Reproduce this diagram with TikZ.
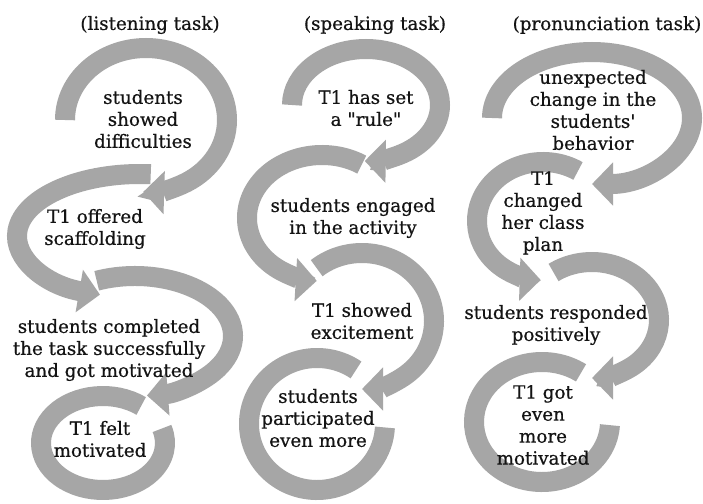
\documentclass[tikz,border=0pt]{standalone}
\usepackage{fontspec}
\setmainfont{DejaVu Serif}[FakeBold=0.6]
\usetikzlibrary{arrows.meta}
\definecolor{arrowgray}{RGB}{166,166,166}
\definecolor{txt}{RGB}{20,20,20}
\tikzset{
  ring/.style={draw=arrowgray, line width=20pt},
  ringarrow/.style={ring, -{Triangle[width=42pt,length=21pt]}},
  lbl/.style={font=\fontsize{18.3}{22}\selectfont, text=txt, align=center, inner sep=0pt},
}
% style, cx, cy(screen), rx, ry, start, end
\newcommand{\ringpath}[7]{%
  \draw[#1] ([shift={(#6:#4 and #5)}]#2,-#3) arc[start angle=#6,end angle=#7,x radius=#4,y radius=#5];}
\begin{document}
\begin{tikzpicture}[x=1pt,y=1pt]
\fill[white] (0,0) rectangle (703,-503);
\useasboundingbox (0,0) rectangle (703,-503);
% column 1
\ringpath{ringarrow}{146}{120}{81}{72}{180}{-92}
\ringpath{ringarrow}{140}{236}{123}{62}{85}{251}
\ringpath{ringarrow}{135}{336}{98}{60}{113}{-83}
\ringpath{ring}{103}{443}{62}{47}{52}{378}
% column 2
\ringpath{ringarrow}{366}{105}{74}{56}{180}{-91}
\ringpath{ringarrow}{322}{218}{75}{63}{58}{266}
\ringpath{ringarrow}{362}{321}{72}{68}{129}{-90}
\ringpath{ring}{317}{424}{68}{66}{55}{357}
% column 3
\ringpath{ringarrow}{592}{118}{100}{66}{180}{-90}
\ringpath{ringarrow}{543}{221}{66}{59}{58}{268}
\ringpath{ringarrow}{592}{320}{67}{58}{125}{-90}
\ringpath{ring}{542}{422}{68}{60}{55}{357}
% titles
\node[lbl] (h1) at (150,-25) {(listening task)};
\node[lbl] (h2) at (375,-25) {(speaking task)};
\node[lbl] (h3) at (607,-25) {(pronunciation task)};
% column 1 texts
\node[lbl] (a1) at (143,-119) {students\\showed\\difficulties};
\node[lbl] (a2) at (95,-229) {T1 offered\\scaffolding};
\node[lbl] (a3) at (109,-350) {students completed\\the task successfully\\and got motivated};
\node[lbl] (a4) at (100,-439) {T1 felt\\motivated};
% column 2 texts
\node[lbl] (b1) at (366,-108) {T1 has set\\a \textquotedbl rule\textquotedbl};
\node[lbl] (b2) at (353,-218) {students engaged\\in the activity};
\node[lbl] (b3) at (362,-321) {T1 showed\\excitement};
\node[lbl] (b4) at (318,-418) {students\\participated\\even more};
% column 3 texts
\node[lbl] (c1) at (593,-110) {unexpected\\change in the\\students\textquotesingle\\behavior};
\node[lbl] (c2) at (543,-213) {T1\\changed\\her class\\plan};
\node[lbl] (c3) at (556,-325) {students responded\\positively};
\node[lbl] (c4) at (543,-425) {T1 got\\even\\more\\motivated};
\end{tikzpicture}
\end{document}
